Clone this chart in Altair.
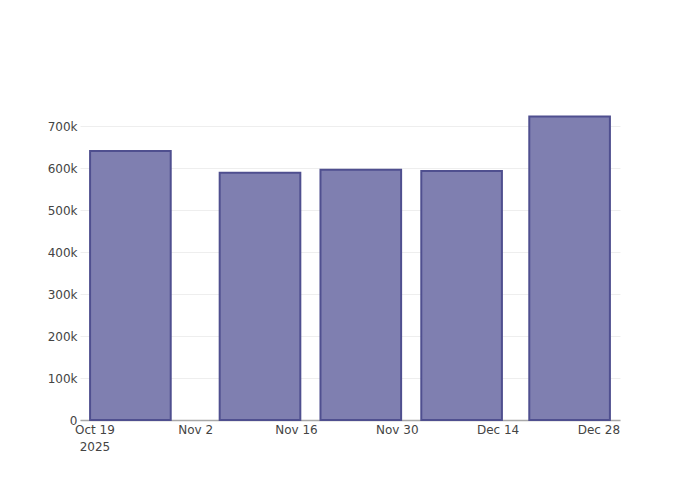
import altair as alt
import pandas as pd

dates = ["2025-10-24", "2025-11-11", "2025-11-25", "2025-12-09", "2025-12-24"]
values = [640500, 589000, 596000, 593000, 722500]
tick_dates = ["2025-10-19", "2025-11-02", "2025-11-16", "2025-11-30", "2025-12-14", "2025-12-28"]
y_ticks = [0, 100000, 200000, 300000, 400000, 500000, 600000, 700000]

half_width = pd.Timedelta(days=5.6)
d = pd.to_datetime(dates)
df = pd.DataFrame({
    "start": (d - half_width).strftime("%Y-%m-%dT%H:%M:%SZ"),
    "end": (d + half_width).strftime("%Y-%m-%dT%H:%M:%SZ"),
    "value": values,
})

x_domain = [alt.DateTime(year=2025, month=10, date=17, utc=True),
            alt.DateTime(year=2025, month=12, date=31, utc=True)]
x_values = [alt.DateTime(year=int(t[:4]), month=int(t[5:7]), date=int(t[8:]), utc=True) for t in tick_dates]

chart = alt.Chart(df).mark_rect(
    fill="#7f7fb0", stroke="#4f4f8f", strokeWidth=2
).encode(
    x=alt.X("start:T", scale=alt.Scale(domain=x_domain, type="utc"),
            axis=alt.Axis(values=x_values, title=None, grid=False, ticks=False,
                          domain=True, domainColor="#a8a8a8", domainWidth=1.5,
                          labelPadding=4, labelFont="DejaVu Sans", labelFontSize=12,
                          labelColor="#444", labelLineHeight=17,
                          labelExpr="datum.index == 0 ? [utcFormat(datum.value, '%b %-d'), '2025'] : utcFormat(datum.value, '%b %-d')")),
    x2="end:T",
    y=alt.Y("value:Q", scale=alt.Scale(domain=[0, 762000], nice=False),
            axis=alt.Axis(values=y_ticks, title=None, grid=True,
                          gridColor="#eeeeee", ticks=False, domain=False,
                          labelPadding=3, labelFont="DejaVu Sans", labelFontSize=12,
                          labelColor="#444",
                          labelExpr="datum.value == 0 ? '0' : format(datum.value / 1000, 'd') + 'k'")),
).properties(
    width=540, height=320,
    autosize=alt.AutoSizeParams(type="none"),
    padding={"left": 72, "top": 92, "right": 72, "bottom": 60},
).configure_view(stroke=None)

chart.save("out.html", embed_options={"renderer": "svg", "actions": False})
